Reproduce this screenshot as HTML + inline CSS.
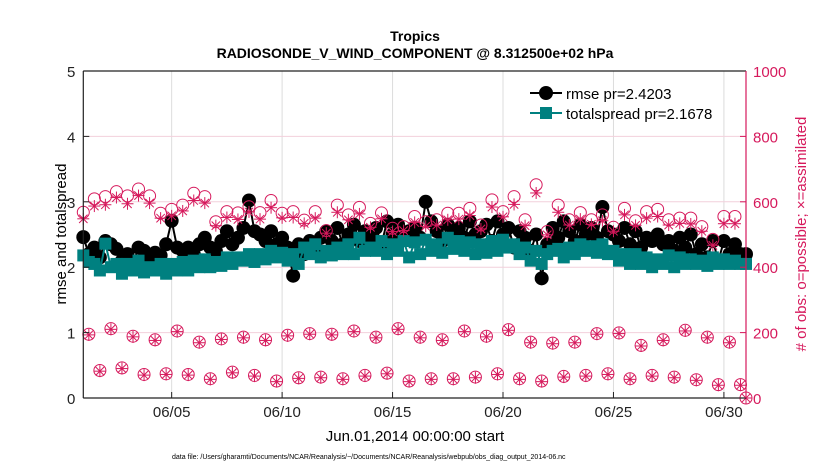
<!DOCTYPE html>
<html><head><meta charset="utf-8"><style>
body{margin:0;background:#fff;}
svg{display:block;font-family:"Liberation Sans",sans-serif;}
</style></head><body>
<svg id="chart" width="830" height="470" xmlns="http://www.w3.org/2000/svg">
<text x="415" y="41" text-anchor="middle" font-size="14" font-weight="bold">Tropics</text>
<text x="415" y="58" text-anchor="middle" font-size="14" font-weight="bold">RADIOSONDE_V_WIND_COMPONENT @ 8.312500e+02 hPa</text>
<g id="grid"></g>
<g id="marks"></g>
<g id="axes"></g>
<text transform="translate(66,234) rotate(-90)" text-anchor="middle" font-size="15">rmse and totalspread</text>
<text transform="translate(806,234) rotate(-90)" text-anchor="middle" font-size="15" fill="#d6195c"># of obs: o=possible; ×=assimilated</text>
<text x="415" y="441" text-anchor="middle" font-size="15">Jun.01,2014 00:00:00 start</text>
<text x="172" y="459" font-size="7">data file: /Users/gharamti/Documents/NCAR/Reanalysis/~/Documents/NCAR/Reanalysis/webpub/obs_diag_output_2014-06.nc</text>
<g>
<line x1="530" y1="93" x2="562" y2="93" stroke="#000" stroke-width="2"/>
<circle cx="546" cy="93" r="7" fill="#000"/>
<text x="566" y="99" font-size="15">rmse pr=2.4203</text>
<line x1="530" y1="113" x2="562" y2="113" stroke="#008080" stroke-width="2"/>
<rect x="540" y="107" width="12" height="12" fill="#008080"/>
<text x="566" y="119" font-size="15">totalspread pr=2.1678</text>
</g>
</svg>
<script>
const xTickLabels = ["06/05","06/10","06/15","06/20","06/25","06/30"];
const xTickDays = [4,9,14,19,24,29];
const yTicks = [0,1,2,3,4,5];
const y2Ticks = [0,200,400,600,800,1000];
const rmse = [
2.46,2.20,2.30,2.15, 2.40,2.35,2.28,2.10, 2.20,2.05,2.30,2.25, 2.10,2.22,2.18,2.35,
2.71,2.30,2.25,2.30, 2.20,2.35,2.45,2.30, 2.25,2.40,2.55,2.35, 2.45,2.60,3.02,2.55,
2.50,2.40,2.55,2.35, 2.45,2.30,1.87,2.35, 2.20,2.40,2.30,2.45, 2.55,2.40,2.60,2.35,
2.50,2.65,2.40,2.55, 2.45,2.60,2.35,2.70, 2.50,2.65,2.45,2.55, 2.60,2.45,3.00,2.70,
2.55,2.40,2.65,2.50, 2.60,2.45,2.70,2.50, 2.55,2.65,2.40,2.70, 2.50,2.60,2.30,2.55,
2.45,2.25,2.50,1.83, 2.35,2.60,2.45,2.70, 2.55,2.40,2.65,2.50, 2.60,2.45,2.92,2.55,
2.50,2.40,2.60,2.35, 2.55,2.30,2.45,2.40, 2.50,2.35,2.40,2.25, 2.45,2.30,2.50,2.20,
2.35,2.15,2.40,2.10, 2.40,2.20,2.35,2.20, 2.20];
const totalspread = [
2.18,2.08,2.05,1.95, 2.36,2.00,2.05,1.90, 2.05,1.95,2.10,1.92, 2.00,1.95,2.05,1.90,
2.05,1.95,2.08,1.95, 2.10,2.00,2.12,2.00, 2.08,2.02,2.15,2.05, 2.15,2.10,2.20,2.08,
2.20,2.12,2.25,2.15, 2.22,2.10,2.20,2.05, 2.30,2.20,2.35,2.15, 2.25,2.18,2.30,2.20,
2.35,2.20,2.45,2.25, 2.30,2.25,2.40,2.20, 2.35,2.25,2.40,2.15, 2.38,2.20,2.42,2.25,
2.35,2.22,2.45,2.28, 2.40,2.25,2.38,2.20, 2.35,2.22,2.40,2.25, 2.42,2.30,2.35,2.20,
2.30,2.10,2.25,2.05, 2.20,2.25,2.28,2.15, 2.30,2.20,2.35,2.25, 2.32,2.22,2.35,2.20,
2.25,2.10,2.20,2.05, 2.20,2.05,2.15,2.00, 2.12,2.05,2.18,2.00, 2.15,2.05,2.12,2.05,
2.10,2.02,2.15,2.05, 2.12,2.05,2.10,2.05, 2.05];
const obsTop = [568,609,616,631,618,639,618,565,577,590,626,616,539,570,566,585,567,604,565,570,544,
570,512,590,560,583,534,566,519,524,555,539,545,565,565,580,529,606,570,616,
545,652,509,590,545,567,545,560,522,580,542,570,577,545,550,550,524,485,555,555];
const obsMid = [195,212,189,178,205,171,181,186,178,192,197,195,205,186,212,186,178,205,189,209,171,168,171,197,199,161,178,207,186,171];
const obsLow = [84,92,72,74,72,59,79,69,52,62,64,59,69,76,52,59,59,64,74,59,52,66,69,74,59,69,64,56,41,41];
const assimTopDrop = [20,22,25,18,24,20,22,15,20,18,22,20,12,18,20,16,20,22,14,18,10,
20,8,22,15,20,12,18,10,12,18,14,16,20,18,22,12,22,16,24,
18,25,10,22,16,20,14,18,12,20,14,20,22,16,16,18,14,18,22,22];

const NS='http://www.w3.org/2000/svg';
const L=83.3,R=746,T=71,B=398;
const xs=d=>L+(d/30)*(R-L);
const ys=v=>B-(v/5)*(B-T);
const y2s=v=>B-(v/1000)*(B-T);
function mk(tag,attrs,parent){const e=document.createElementNS(NS,tag);for(const k in attrs)e.setAttribute(k,attrs[k]);parent.appendChild(e);return e;}
const grid=document.getElementById('grid'),marks=document.getElementById('marks'),axes=document.getElementById('axes');
const PINK='#d6195c';

xTickDays.forEach((d,i)=>{
  const x=xs(d);
  const g=mk('line',{x1:x,y1:T,x2:x,y2:B,stroke:'#dcdcdc','stroke-width':1},grid);
  
  
  const t=mk('line',{x1:x,y1:B,x2:x,y2:B-6,stroke:'#222','stroke-width':1},axes);
  
  
  const lb=mk('text',{x:x,y:B+19,'text-anchor':'middle','font-size':15,fill:'#222'},axes);
  lb.textContent=xTickLabels[i];
  
  
});
y2Ticks.forEach(v=>{
  const y=y2s(v);
  if(v>0&&v<1000){
    const g=mk('line',{x1:L,y1:y,x2:R,y2:y,stroke:'#f2d0dc','stroke-width':1},grid);
    
    
  }
  const t=mk('line',{x1:R,y1:y,x2:R-6,y2:y,stroke:PINK,'stroke-width':1},axes);
  
  
  const lb=mk('text',{x:R+7,y:y+6,'font-size':15,fill:PINK},axes);
  lb.textContent=v;
  
  
});
yTicks.forEach(v=>{
  const y=ys(v);
  const t=mk('line',{x1:L,y1:y,x2:L+6,y2:y,stroke:'#222','stroke-width':1},axes);
  
  
  const lb=mk('text',{x:L-8,y:y+6,'text-anchor':'end','font-size':15,fill:'#222'},axes);
  lb.textContent=v;
  
  
});
const frame=[['M',L,T,R,T,'#222'],['M',L,T,L,B,'#222'],['M',L,B,R,B,'#222'],['M',R,T,R,B,PINK]];
frame.forEach(f=>{const ln=mk('line',{x1:f[1],y1:f[2],x2:f[3],y2:f[4],stroke:f[5],'stroke-width':1.2},axes);
  
  });

// rmse
const day=i=>i*0.25;
mk('polyline',{points:rmse.map((v,i)=>xs(day(i))+','+ys(v)).join(' '),fill:'none',stroke:'#000','stroke-width':2},marks);
rmse.forEach((v,i)=>{const c=mk('circle',{cx:xs(day(i)),cy:ys(v),r:7,fill:'#000'},marks);
  
  });
mk('polyline',{points:totalspread.map((v,i)=>xs(day(i))+','+ys(v)).join(' '),fill:'none',stroke:'#008080','stroke-width':2},marks);
totalspread.forEach((v,i)=>{const s=mk('rect',{x:xs(day(i))-6,y:ys(v)-6,width:12,height:12,fill:'#008080'},marks);
  
  });

// obs counts: build per-index possible & assimilated
const possible=[],assim=[];
for(let i=0;i<=120;i++){
  const dd=Math.floor(i/4),r=i%4;
  if(i===120){possible.push(0);assim.push(0);continue;}
  if(r===0||r===2){const k=i/2;possible.push(obsTop[k]);assim.push(obsTop[k]-assimTopDrop[k]);}
  else if(r===1){possible.push(obsMid[dd]);assim.push(obsMid[dd]-2);}
  else {possible.push(obsLow[dd]);assim.push(obsLow[dd]-2);}
}
function star(x,y){
  const g=mk('g',{stroke:PINK,'stroke-width':1},marks);
  
  
  const s=6;
  mk('line',{x1:x-s,y1:y,x2:x+s,y2:y},g);
  mk('line',{x1:x,y1:y-s,x2:x,y2:y+s},g);
  mk('line',{x1:x-s*0.7,y1:y-s*0.7,x2:x+s*0.7,y2:y+s*0.7},g);
  mk('line',{x1:x-s*0.7,y1:y+s*0.7,x2:x+s*0.7,y2:y-s*0.7},g);
}
possible.forEach((v,i)=>{const c=mk('circle',{cx:xs(day(i)),cy:y2s(v),r:6,fill:'none',stroke:PINK,'stroke-width':1},marks);
  
  });
assim.forEach((v,i)=>star(xs(day(i)),y2s(v)));
</script>
</body></html>
